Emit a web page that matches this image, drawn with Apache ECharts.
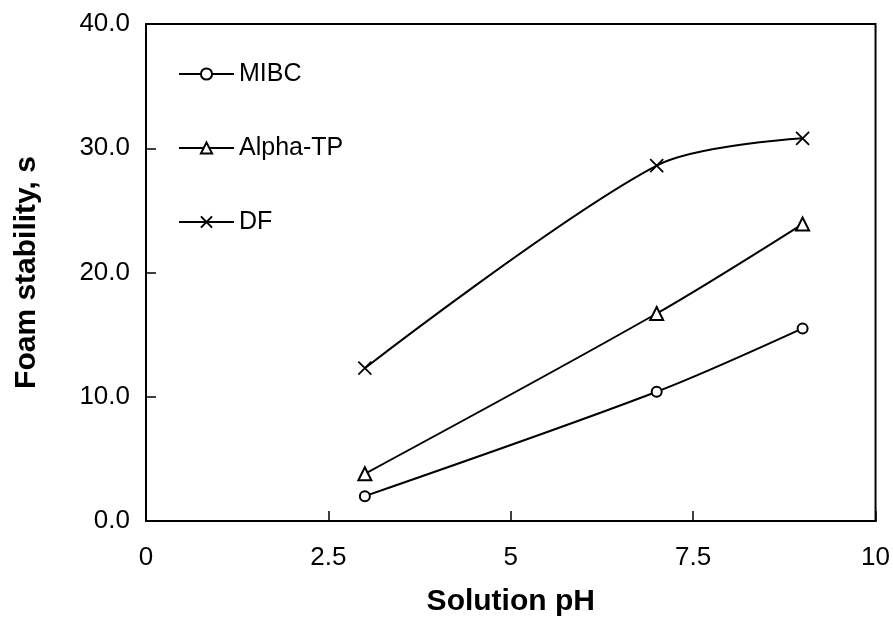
<!DOCTYPE html>
<html><head><meta charset="utf-8">
<script src="https://cdn.jsdelivr.net/npm/echarts@6/dist/echarts.min.js"></script>
<style>html,body{margin:0;padding:0;background:#fff}#c{width:893px;height:622px}</style>
</head><body><div id="c"></div>
<script>
const ph = [3, 7, 9];
const mibc = [2.0, 10.4, 15.5];
const alphaTP = [3.8, 16.7, 23.9];
const df = [12.3, 28.6, 30.8];
const xTicks = [0, 2.5, 5, 7.5, 10];
const yTicks = [0, 10, 20, 30, 40];

const font = 'Liberation Sans, Arial, Helvetica, sans-serif';
const pairs = (ys) => ph.map((x, i) => [x, ys[i]]);
const crossPath = 'path://M0,0L10,10M10,0L0,10';
const lineStyle = { color: '#000', width: 2 };

const chart = echarts.init(document.getElementById('c'));
chart.setOption({
  animation: false,
  backgroundColor: '#fff',
  textStyle: { fontFamily: font },
  grid: { left: 146, right: 16, top: 24, bottom: 99, show: true, borderColor: '#000', borderWidth: 2, backgroundColor: 'transparent' },
  legend: {
    orient: 'vertical', left: 178, top: 61, padding: 0, itemWidth: 55, itemHeight: 14, itemGap: 48,
    textStyle: { fontFamily: font, fontSize: 25, lineHeight: 26, color: '#000' },
    data: ['MIBC', 'Alpha-TP', 'DF']
  },
  xAxis: {
    type: 'value', min: 0, max: 10, interval: 2.5,
    name: 'Solution pH', nameLocation: 'middle', nameGap: 66,
    nameTextStyle: { fontFamily: font, fontSize: 30, fontWeight: 'bold', color: '#000' },
    axisLine: { lineStyle: { color: '#000', width: 2 } },
    axisTick: { inside: true, length: 10, lineStyle: { color: '#000', width: 1.5 } },
    axisLabel: { fontFamily: font, fontSize: 26, color: '#000', margin: 24,
      formatter: v => xTicks.includes(v) ? String(v) : '' },
    splitLine: { show: false }
  },
  yAxis: {
    type: 'value', min: 0, max: 40, interval: 10,
    name: 'Foam stability, s', nameLocation: 'middle', nameGap: 104, nameRotate: 90,
    nameTextStyle: { fontFamily: font, fontSize: 30, fontWeight: 'bold', color: '#000' },
    axisLine: { lineStyle: { color: '#000', width: 2 } },
    axisTick: { inside: true, length: 10, lineStyle: { color: '#000', width: 1.5 } },
    axisLabel: { fontFamily: font, fontSize: 26, color: '#000', margin: 16,
      formatter: v => yTicks.includes(v) ? v.toFixed(1) : '' },
    splitLine: { show: false }
  },
  series: [
    { name: 'MIBC', type: 'line', data: pairs(mibc), smooth: 0.3,
      symbol: 'emptyCircle', symbolSize: 10, lineStyle,
      itemStyle: { color: '#000', borderColor: '#000', borderWidth: 1.5 } },
    { name: 'Alpha-TP', type: 'line', data: pairs(alphaTP), smooth: 0.3,
      symbol: 'emptyTriangle', symbolSize: 13, lineStyle,
      itemStyle: { color: '#000', borderColor: '#000', borderWidth: 1.5 } },
    { name: 'DF', type: 'line', data: pairs(df), smooth: 0.3,
      symbol: crossPath, symbolSize: 13, lineStyle,
      itemStyle: { color: 'none', borderColor: '#000', borderWidth: 1.8 } }
  ]
});
</script></body></html>
